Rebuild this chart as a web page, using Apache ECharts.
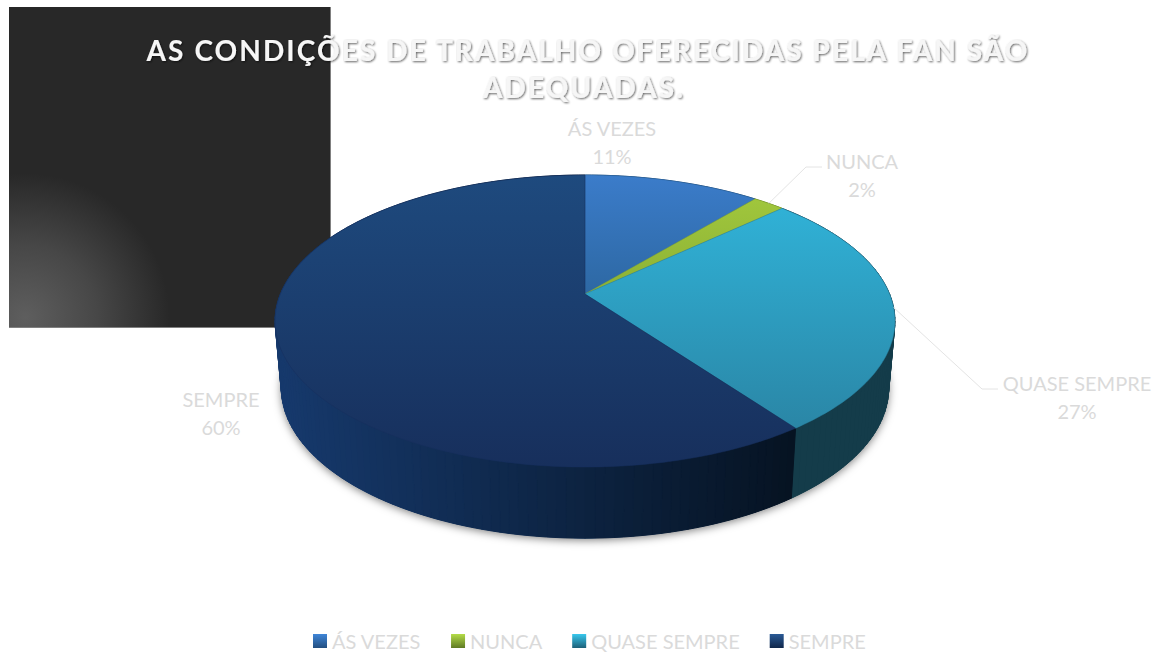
<!DOCTYPE html>
<html>
<head>
<meta charset="utf-8">
<style>
html,body{margin:0;padding:0;background:#fff}
#c{width:1163px;height:655px}
#c svg text[style*="bold"]{letter-spacing:2.1px}
</style>
<script src="https://cdn.jsdelivr.net/npm/echarts@6/dist/echarts.min.js"></script>
</head>
<body>
<div id="c"></div>
<script>
var titleLines = ['AS CONDIÇÕES DE TRABALHO OFERECIDAS PELA FAN SÃO', 'ADEQUADAS.'];
var categories = ['ÁS VEZES', 'NUNCA', 'QUASE SEMPRE', 'SEMPRE'];
var values = [11, 2, 27, 60];

var topColors = [['#3b7cca', '#2d68a3'], ['#a0c63c', '#8cb135'], ['#30b1d6', '#2a86a6'], ['#1e4a7e', '#172f5c']];
var sideColors = [['#1f4a7a', '#1f4a7a'], ['#5f7a24', '#5f7a24'], ['#0f3440', '#143c4a'], ['#16396c', '#061322']];
var legendColors = [['#3f86d8', '#234f80'], ['#b4dc48', '#5f7a24'], ['#38c8ee', '#1d6078'], ['#2a5a96', '#10274a']];
var labelCentres = [[612, 142], [862, 175], [1077, 397], [221, 413]];
var leaderBends = [null, [[806, 167], [822, 167]], [[982, 389], [998, 389]], null];

// Perspective projection of the pie's circular top face and its lower rim
var CX = 585, CY = 294, RX = 304.6, RY = 141, PERSP = 0.185;
var DEPTH_CY = 360, DEPTH_SX = 0.98, DEPTH_SY = 1.03;
var SIDE_X0 = 280, SIDE_X1 = 795;
var total = values.reduce(function (a, b) { return a + b; }, 0);

function topPoint(frac) {
  var t = frac * Math.PI * 2, u = Math.sin(t), v = -Math.cos(t), w = 1 - PERSP * v;
  return [CX + RX * u / w, CY + RY * v / w];
}
function lowPoint(frac) {
  var p = topPoint(frac);
  return [CX + (p[0] - CX) * DEPTH_SX, DEPTH_CY + (p[1] - CY) * DEPTH_SY];
}
function arc(fn, a, b, perTurn) {
  var n = Math.max(2, Math.ceil((b - a) * perTurn)), out = [];
  for (var i = 0; i <= n; i++) out.push(fn(a + (b - a) * i / n));
  return out;
}
function grad(c) {
  return new echarts.graphic.LinearGradient(0, 0, 0, 1,
    [{ offset: 0, color: c[0] }, { offset: 1, color: c[1] }]);
}

function renderSlice(idx) {
  return function (params, api) {
    var start = 0;
    for (var i = 0; i < idx; i++) start += values[i];
    var a = start / total, b = (start + api.value(0)) / total, mid = (a + b) / 2;
    var children = [];
    var top = arc(topPoint, a, b, 360);
    // soft drop shadow under the lower rim
    children.push({
      type: 'polygon', z2: 0, silent: true,
      shape: { points: arc(lowPoint, a, b, 360).concat([[CX, DEPTH_CY]]) },
      style: { fill: sideColors[idx][0], shadowBlur: 8, shadowColor: 'rgba(0,0,0,0.5)', shadowOffsetY: 2 }
    });
    // side wall, one narrow quad per step so that the silhouette stays straight
    var T = arc(topPoint, a, b, 240), L = arc(lowPoint, a, b, 240);
    for (var k = 0; k < T.length - 1; k++) {
      var mx = (T[k][0] + T[k + 1][0]) / 2;
      var f = Math.min(1, Math.max(0, (mx - SIDE_X0) / (SIDE_X1 - SIDE_X0)));
      var col = echarts.color.lerp(f, sideColors[idx]);
      children.push({
        type: 'polygon', z2: 1, silent: true,
        shape: { points: [T[k], T[k + 1], L[k + 1], L[k]] },
        style: { fill: col, stroke: col, lineWidth: 1 }
      });
    }
    children.push({
      type: 'polygon', z2: 2, silent: true,
      shape: { points: [[CX, CY]].concat(top) },
      style: { fill: grad(topColors[idx]), stroke: topColors[idx][1], lineWidth: 0.5 }
    });
    if (leaderBends[idx]) {
      children.push({
        type: 'polyline', z2: 3, silent: true,
        shape: { points: [topPoint(mid)].concat(leaderBends[idx]) },
        style: { fill: 'none', stroke: '#e4e4e4', lineWidth: 1 }
      });
    }
    children.push({
      type: 'text', z2: 4, silent: true,
      x: labelCentres[idx][0], y: labelCentres[idx][1],
      style: {
        text: categories[idx] + '\n' + api.value(0) + '%',
        align: 'center', verticalAlign: 'middle', fill: '#dadada',
        fontFamily: 'Lato', fontSize: 20, lineHeight: 28
      }
    });
    return { type: 'group', children: children };
  };
}

var titleStyle = {
  fontFamily: 'Lato', fontWeight: 'bold', fontSize: 28, color: '#f6f6f6',
  textShadowColor: 'rgba(0,0,0,0.6)', textShadowBlur: 2, textShadowOffsetX: 1, textShadowOffsetY: 1
};

var chart = echarts.init(document.getElementById('c'), null, { renderer: 'svg', width: 1163, height: 655 });
chart.setOption({
  animation: false,
  backgroundColor: '#ffffff',
  title: [
    { text: titleLines[0], left: 583, top: 31, textAlign: 'center', z: 10, textStyle: titleStyle },
    { text: titleLines[1], left: 579, top: 68, textAlign: 'center', z: 10, textStyle: titleStyle }
  ],
  legend: {
    left: 308, top: 626, itemWidth: 14, itemHeight: 14, itemGap: 30, icon: 'rect',
    selectedMode: false,
    textStyle: { fontFamily: 'Lato', fontSize: 20, color: '#dadada' },
    data: categories.map(function (n, i) {
      return { name: n, itemStyle: { color: grad(legendColors[i]) } };
    })
  },
  graphic: [{
    type: 'rect', z: -1, silent: true,
    shape: { x: 9, y: 7, width: 321, height: 320 },
    style: {
      fill: new echarts.graphic.RadialGradient(0.05, 0.97, 0.45, [
        { offset: 0, color: '#5e5e5e' }, { offset: 0.5, color: '#474747' }, { offset: 1, color: '#282828' }
      ])
    }
  }, {
    type: 'polyline', z: -1, silent: true,
    shape: { points: [[9, 327.5], [330.5, 327.5], [330.5, 7]] },
    style: { fill: 'none', stroke: '#808080', lineWidth: 1 }
  }],
  series: categories.map(function (n, i) {
    return {
      type: 'custom', name: n, coordinateSystem: 'none', z: 5,
      itemStyle: { color: topColors[i][0] },
      renderItem: renderSlice(i),
      data: [{ name: n, value: values[i] }]
    };
  })
});
</script>
</body>
</html>
